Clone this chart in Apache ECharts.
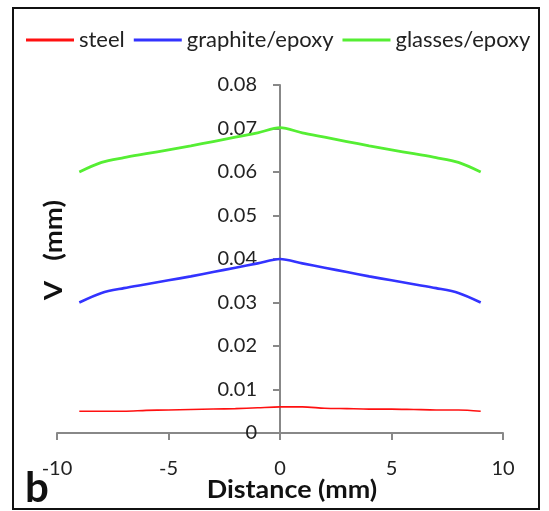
<!DOCTYPE html>
<html>
<head>
<meta charset="utf-8">
<script src="https://cdn.jsdelivr.net/npm/echarts@6/dist/echarts.min.js"></script>
<style>
  html, body { margin: 0; padding: 0; background: #fff; }
  #chart { width: 549px; height: 511px; }
</style>
</head>
<body>
<div id="chart"></div>
<script>
// Distance along the specimen (mm)
const distance = [-9, -8, -7, -6, -5, -4, -3, -2, -1, 0, 1, 2, 3, 4, 5, 6, 7, 8, 9];

// Displacement V (mm) for each material
const steel = [0.0050, 0.0050, 0.0050, 0.0052, 0.0053, 0.0054, 0.0055, 0.0056, 0.0058, 0.0060,
               0.0060, 0.0057, 0.0056, 0.0055, 0.0055, 0.0054, 0.0053, 0.0053, 0.0050];
const graphiteEpoxy = [0.0300, 0.0322, 0.0333, 0.0342, 0.0351, 0.0360, 0.0370, 0.0380, 0.0390, 0.0400,
                       0.0390, 0.0380, 0.0370, 0.0360, 0.0351, 0.0342, 0.0333, 0.0322, 0.0300];
const glassesEpoxy = [0.0600, 0.0622, 0.0633, 0.0642, 0.0651, 0.0660, 0.0670, 0.0680, 0.0690, 0.0702,
                      0.0690, 0.0680, 0.0670, 0.0660, 0.0651, 0.0642, 0.0633, 0.0622, 0.0600];

const seriesNames = ['steel', 'graphite/epoxy', 'glasses/epoxy'];
const xTicks = [-10, 10, 5];          // min, max, interval
const yTicks = [0, 0.08, 0.01];       // min, max, interval

const colors = ['#ff1010', '#3333ff', '#55ee33'];
const widths = [1.6, 2.6, 2.8];
const font = 'Lato, "Open Sans", sans-serif';
const pair = arr => arr.map((v, i) => [distance[i], v]);

const gridLeft = 57, gridRight = 46;
const plotWidth = 549 - gridLeft - gridRight;
// the vertical axis crosses the horizontal one at distance 0
const yAxisShift = -plotWidth * (0 - xTicks[0]) / (xTicks[1] - xTicks[0]);

const chart = echarts.init(document.getElementById('chart'));
chart.setOption({
  animation: false,
  backgroundColor: '#fff',
  grid: { left: gridLeft, right: gridRight, top: 85, bottom: 78, containLabel: false },
  legend: {
    top: 24, left: 21, width: 700,
    itemWidth: 48, itemHeight: 3, itemGap: 9,
    textStyle: { fontFamily: font, fontSize: 22, color: '#222' },
    data: seriesNames.map((n, i) => ({ name: n, icon: 'rect', itemStyle: { color: colors[i] } }))
  },
  xAxis: {
    type: 'value', min: xTicks[0], max: xTicks[1], interval: xTicks[2],
    axisLine: { onZero: true, lineStyle: { color: '#888', width: 2 } },
    axisTick: { show: true, inside: false, length: 7, lineStyle: { color: '#888', width: 2 } },
    axisLabel: { margin: 26, fontFamily: font, fontSize: 20, color: '#222' },
    splitLine: { show: false }
  },
  yAxis: {
    type: 'value', min: yTicks[0], max: yTicks[1], interval: yTicks[2],
    offset: yAxisShift,
    axisLine: { show: true, onZero: false, lineStyle: { color: '#888', width: 2 } },
    axisTick: { show: true, inside: false, length: 7, lineStyle: { color: '#888', width: 2 } },
    axisLabel: {
      margin: 23, fontFamily: font, fontSize: 20, color: '#222',
      formatter: v => v === 0 ? '0' : v.toFixed(2)
    },
    splitLine: { show: false }
  },
  series: seriesNames.map((n, i) => ({
    name: n, type: 'line', smooth: 0.3, showSymbol: false,
    data: pair([steel, graphiteEpoxy, glassesEpoxy][i]),
    lineStyle: { color: colors[i], width: widths[i] },
    itemStyle: { color: colors[i] }
  })),
  graphic: [
    { type: 'rect', silent: true, z: 100,
      shape: { x: 13, y: 8, width: 526, height: 501 },
      style: { fill: null, stroke: '#111', lineWidth: 2 } },
    { type: 'text', x: 292, y: 490, scaleX: 1.12,
      style: { text: 'Distance (mm)', font: 'bold 24px ' + font, fill: '#111', textAlign: 'center', textVerticalAlign: 'middle' } },
    { type: 'text', x: 54, y: 250, rotation: Math.PI / 2, scaleX: 1.15,
      style: { text: 'V   (mm)', font: 'bold 24px ' + font, fill: '#111', textAlign: 'center', textVerticalAlign: 'middle' } },
    { type: 'text', x: 25, y: 488,
      style: { text: 'b', font: 'bold 42px ' + font, fill: '#111', textVerticalAlign: 'middle' } }
  ]
});
</script>
</body>
</html>
